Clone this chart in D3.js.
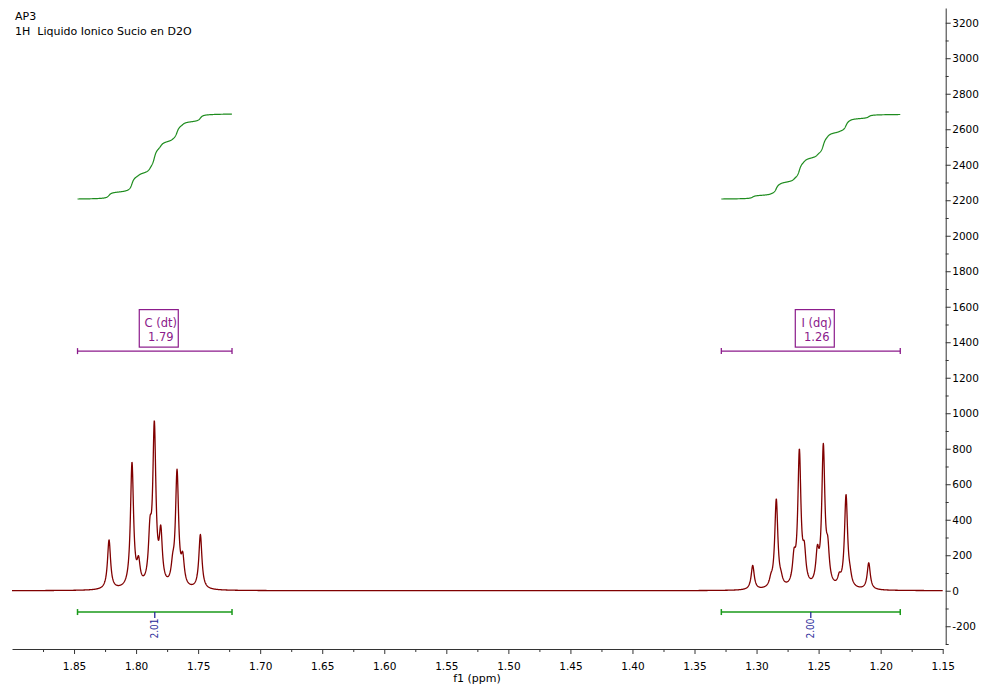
<!DOCTYPE html>
<html>
<head>
<meta charset="utf-8">
<script src="https://cdn.jsdelivr.net/npm/d3@7"></script>
<style>
  body { margin: 0; background: #fff; }
  svg { display: block; font-family: "DejaVu Sans", Verdana, sans-serif; }
  text { white-space: pre; }
</style>
</head>
<body>
<svg id="chart" width="982" height="686"></svg>
<script>
// ---- Spectrum header ----
const titleLines = ["AP3", "1H  Liquido Ionico Sucio en D2O"];

// ---- Resolved lines: chemical shift (ppm) and observed peak height ----
const peakShifts  = [1.8218, 1.8033, 1.7980, 1.7888, 1.7853, 1.7801, 1.7705, 1.7670, 1.7624, 1.7482,
                     1.3031, 1.2884, 1.2841, 1.2803, 1.2698, 1.2655, 1.2615, 1.2510, 1.2462, 1.2426,
                     1.2333, 1.2279, 1.2247, 1.2096];
const peakHeights = [287, 725, 197, 417, 959, 370, 214, 685, 220, 317,
                     143, 100, 518, 115, 240, 800, 278, 259, 830, 306,
                     105, 543, 146, 158];
const lineFWHM = 0.0030; // Lorentzian full width at half height, ppm

// ---- Multiplet / integral annotations ----
const multipletNames  = ["C (dt)", "I (dq)"];
const multipletShifts = [1.79, 1.26];
const rangeStart      = [1.8472, 1.3284];
const rangeEnd        = [1.7227, 1.1842];
const integralValues  = [2.01, 2.00];

// ---- Axis ticks ----
const xMajorTicks = [1.85, 1.80, 1.75, 1.70, 1.65, 1.60, 1.55, 1.50, 1.45, 1.40, 1.35, 1.30, 1.25, 1.20, 1.15];
const xMinorTicks = [1.875, 1.825, 1.775, 1.725, 1.675, 1.625, 1.575, 1.525, 1.475, 1.425, 1.375, 1.325, 1.275, 1.225, 1.175];
const yMajorTicks = [-200, 0, 200, 400, 600, 800, 1000, 1200, 1400, 1600, 1800, 2000, 2200, 2400, 2600, 2800, 3000, 3200];
const yMinorTicks = [-300, -100, 100, 300, 500, 700, 900, 1100, 1300, 1500, 1700, 1900, 2100, 2300, 2500, 2700, 2900, 3100];

// ---- Layout ----
const svg = d3.select("#chart");
const x = d3.scaleLinear().domain([1.90, 1.15]).range([12, 942.7]);
const y = d3.scaleLinear().domain([-300, 3283]).range([644, 8]);

const SPEC_COLOR = "#800000";
const INT_COLOR = "#1e8c1e";
const MULT_COLOR = "#8b1a8b";
const INT_LABEL_COLOR = "#2a2a9a";

// Integral trace placement (in intensity units) and scale per integral unit
const integralBase = 2207;
const integralUnit = 238;
const multipletBarLevel = 1350;
const integralBarLevel = -120;

// ---- Line shape model: Lorentzian lines whose summed maxima hit the observed heights ----
const lor = d => 1 / (1 + Math.pow(2 * d / lineFWHM, 2));
const amps = peakHeights.slice();
for (let it = 0; it < 120; it++) {
  for (let i = 0; i < peakShifts.length; i++) {
    let s = 0;
    for (let j = 0; j < peakShifts.length; j++) s += amps[j] * lor(peakShifts[i] - peakShifts[j]);
    amps[i] = Math.max(0, amps[i] + 0.7 * (peakHeights[i] - s));
  }
}
const intensity = p => {
  let s = 0;
  for (let j = 0; j < peakShifts.length; j++) s += amps[j] * lor(p - peakShifts[j]);
  return s;
};

const [pHi, pLo] = x.domain();
const step = 0.0002;
const spectrum = d3.range(pHi, pLo - step / 2, -step).map(p => ({ p, v: intensity(p) }));

// ---- Axes ----
const xAxisY = 649;
svg.append("g").attr("transform", `translate(0,${xAxisY})`)
  .call(d3.axisBottom(x).tickValues(xMajorTicks).tickFormat(d3.format(".2f"))
    .tickSize(5).tickSizeOuter(0).tickPadding(8.5));
svg.append("g").attr("transform", `translate(0,${xAxisY})`)
  .call(d3.axisBottom(x).tickValues(xMinorTicks).tickFormat("").tickSize(3).tickSizeOuter(0))
  .call(g => g.select(".domain").remove());

const yAxisX = 945.7;
svg.append("g").attr("transform", `translate(${yAxisX},0)`)
  .call(d3.axisRight(y).tickValues(yMajorTicks).tickFormat(d => String(d))
    .tickSize(5).tickSizeOuter(0).tickPadding(1.5));
svg.append("g").attr("transform", `translate(${yAxisX},0)`)
  .call(d3.axisRight(y).tickValues(yMinorTicks).tickFormat("").tickSize(3).tickSizeOuter(0))
  .call(g => g.select(".domain").remove());

svg.selectAll(".tick text").attr("font-size", 10.5).attr("fill", "#000")
  .attr("font-family", "'DejaVu Sans', Verdana, sans-serif");
svg.selectAll(".domain, .tick line").attr("stroke", "#333");

svg.append("text").attr("x", 477).attr("y", 682).attr("text-anchor", "middle")
  .attr("font-size", 11).text("f1 (ppm)");

// ---- Title ----
svg.selectAll(".title").data(titleLines).join("text")
  .attr("class", "title").attr("x", 15).attr("y", (d, i) => 20 + i * 15)
  .attr("font-size", 11).attr("fill", "#000").text(d => d);

// ---- Spectrum ----
svg.append("path").datum(spectrum)
  .attr("fill", "none").attr("stroke", SPEC_COLOR).attr("stroke-width", 1.3)
  .attr("stroke-linejoin", "round")
  .attr("d", d3.line().x(d => x(d.p)).y(d => y(d.v)));

// ---- Integral traces (cumulative area across each multiplet range) ----
multipletNames.forEach((name, k) => {
  const pts = spectrum.filter(d => d.p <= rangeStart[k] && d.p >= rangeEnd[k]);
  let acc = 0;
  const cum = pts.map((d, i) => {
    if (i > 0) acc += (pts[i - 1].v + d.v) / 2;
    return acc;
  });
  const total = acc;
  const trace = pts.map((d, i) => ({ p: d.p, v: integralBase + cum[i] / total * integralValues[k] * integralUnit }));
  svg.append("path").datum(trace)
    .attr("fill", "none").attr("stroke", INT_COLOR).attr("stroke-width", 1.2)
    .attr("d", d3.line().x(d => x(d.p)).y(d => y(d.v)));
});

// ---- Range bars with end caps ----
function rangeBar(k, level, color, width) {
  const g = svg.append("g").attr("stroke", color).attr("stroke-width", width);
  const x0 = x(rangeStart[k]), x1 = x(rangeEnd[k]), yy = y(level);
  g.append("line").attr("x1", x0).attr("x2", x1).attr("y1", yy).attr("y2", yy);
  [x0, x1].forEach(xx => g.append("line").attr("x1", xx).attr("x2", xx).attr("y1", yy - 3).attr("y2", yy + 3));
  return { x0, x1, yy, cx: (x0 + x1) / 2 };
}

multipletNames.forEach((name, k) => {
  // multiplet bar and label box
  const m = rangeBar(k, multipletBarLevel, MULT_COLOR, 1.3);
  const bw = 39, bh = 37.5;
  const bx = m.cx + 4 - bw / 2, by = m.yy - 4 - bh;
  svg.append("rect").attr("x", bx).attr("y", by).attr("width", bw).attr("height", bh)
    .attr("fill", "#fff").attr("stroke", MULT_COLOR).attr("stroke-width", 1.2);
  const lines = [name, d3.format(".2f")(multipletShifts[k])];
  svg.selectAll(null).data(lines).join("text")
    .attr("x", bx + bw / 2 + 2).attr("y", (d, i) => by + 17.4 + i * 14.3)
    .attr("text-anchor", "middle").attr("font-size", 11.5).attr("fill", MULT_COLOR)
    .text(d => d);

  // integral bar and value
  const b = rangeBar(k, integralBarLevel, "#1a9a1a", 1.5);
  svg.append("line").attr("x1", b.cx).attr("x2", b.cx).attr("y1", b.yy).attr("y2", b.yy + 6)
    .attr("stroke", INT_LABEL_COLOR).attr("stroke-width", 1.3);
  svg.append("text")
    .attr("transform", `translate(${b.cx},${b.yy + 6.5}) rotate(-90)`)
    .attr("text-anchor", "end").attr("dy", "0.35em")
    .attr("font-size", 10).attr("font-family", "'DejaVu Sans Condensed', 'DejaVu Sans', sans-serif")
    .attr("fill", INT_LABEL_COLOR)
    .text(d3.format(".2f")(integralValues[k]));
});
</script>
</body>
</html>
